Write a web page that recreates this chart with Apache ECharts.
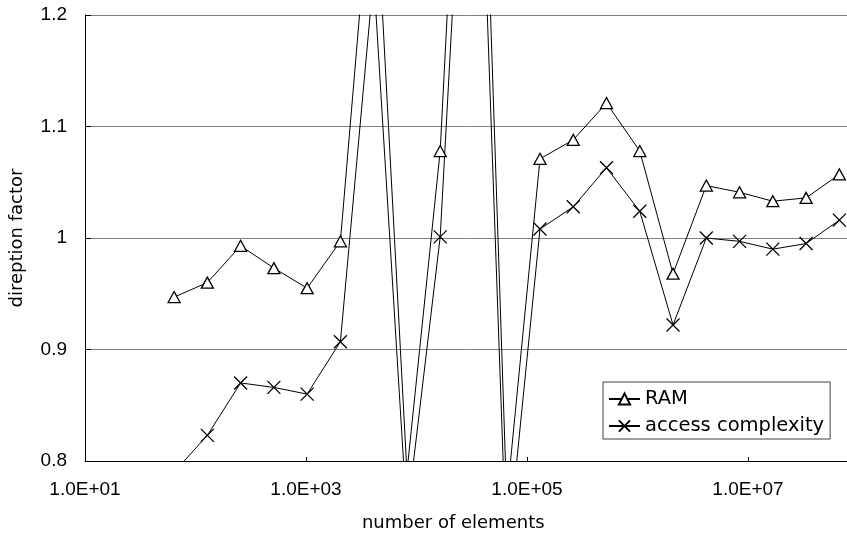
<!DOCTYPE html>
<html>
<head>
<meta charset="utf-8">
<script src="https://cdn.jsdelivr.net/npm/echarts@6/dist/echarts.min.js"></script>
<style>
  html, body { margin: 0; padding: 0; background: #fff; }
  #chart { width: 847px; height: 536px; }
</style>
</head>
<body>
<div id="chart"></div>
<script>
// number of elements (x), powers of two
const elements = [64, 128, 256, 512, 1024, 2048, 4096, 8192, 16384, 32768, 65536,
    131072, 262144, 524288, 1048576, 2097152, 4194304, 8388608, 16777216, 33554432, 67108864];

// direption factor (off-chart points estimated from line slopes)
const ramValues = [0.947, 0.960, 0.993, 0.973, 0.955, 0.997, 1.35, 0.79, 1.078, 1.66, 0.765,
    1.071, 1.088, 1.121, 1.078, 0.968, 1.047, 1.041, 1.033, 1.036, 1.057];
const accessValues = [0.79, 0.823, 0.870, 0.866, 0.860, 0.907, 1.235, 0.75, 1.001, 1.55, 0.71,
    1.008, 1.028, 1.063, 1.024, 0.922, 1.000, 0.997, 0.990, 0.995, 1.016];

const xTickValues = [1e1, 1e3, 1e5, 1e7];
const seriesNames = ['RAM', 'access complexity'];

const FONT = 'Liberation Sans';
const WIDE_FONT = 'DejaVu Sans';

function toPairs(vals) {
    return elements.map((n, i) => [n, vals[i]]);
}

const chart = echarts.init(document.getElementById('chart'));
chart.setOption({
    animation: false,
    backgroundColor: '#fff',
    textStyle: { fontFamily: FONT },
    // plot runs past the right edge of the picture (axis goes to 1e8)
    grid: { left: 85, top: 15, width: 773.5, height: 446, outerBoundsMode: 'none', containLabel: false },
    legend: {
        orient: 'vertical',
        left: 603,
        top: 382,
        data: seriesNames,
        itemWidth: 31,
        itemHeight: 14,
        itemGap: 7,
        padding: [7, 6, 3, 5],
        borderColor: '#404040',
        borderWidth: 1,
        backgroundColor: '#fff',
        textStyle: { fontSize: 19.5, color: '#000', fontFamily: WIDE_FONT }
    },
    xAxis: {
        type: 'log',
        logBase: 10,
        min: 10,
        max: 1e8,
        name: 'number of elements',
        nameLocation: 'middle',
        nameGap: 53,
        // the visible part of the plot ends at the picture edge, so pull the title left
        nameTextStyle: { fontSize: 18, color: '#000', fontFamily: WIDE_FONT, padding: [0, 37, 0, 0] },
        axisLine: { onZero: false, lineStyle: { color: '#000', width: 1 } },
        axisTick: { show: true, inside: true, length: 4, customValues: xTickValues, lineStyle: { color: '#000' } },
        minorTick: { show: false },
        splitLine: { show: false },
        axisLabel: {
            fontSize: 19,
            color: '#000',
            margin: 19,
            fontFamily: FONT,
            formatter: function (v) {
                const e = Math.round(Math.log10(v));
                if (e % 2 === 0) return '';
                return '1.0E+' + (e < 10 ? '0' + e : e);
            }
        }
    },
    yAxis: {
        type: 'value',
        min: 0.8,
        max: 1.2,
        interval: 0.1,
        name: 'direption factor',
        nameLocation: 'middle',
        nameGap: 59,
        nameTextStyle: { fontSize: 18, color: '#000', fontFamily: WIDE_FONT },
        axisLine: { show: true, lineStyle: { color: '#000', width: 1 } },
        axisTick: { show: true, inside: true, length: 6, lineStyle: { color: '#000' } },
        splitLine: { show: true, lineStyle: { color: '#808080', width: 1 } },
        axisLabel: { fontSize: 19, color: '#000', margin: 18, fontFamily: FONT }
    },
    series: [
        {
            name: seriesNames[0],
            type: 'line',
            data: toPairs(ramValues),
            symbol: 'triangle',
            symbolSize: [12, 11],
            lineStyle: { color: '#000', width: 1 },
            itemStyle: { color: '#fff', borderColor: '#000', borderWidth: 1.3 },
            z: 3
        },
        {
            name: seriesNames[1],
            type: 'line',
            data: toPairs(accessValues),
            symbol: 'path://M0,0L10,10M10,0L0,10',
            symbolSize: 13,
            lineStyle: { color: '#000', width: 1 },
            itemStyle: { color: 'none', borderColor: '#000', borderWidth: 1.3 },
            z: 3
        }
    ]
});
</script>
</body>
</html>
